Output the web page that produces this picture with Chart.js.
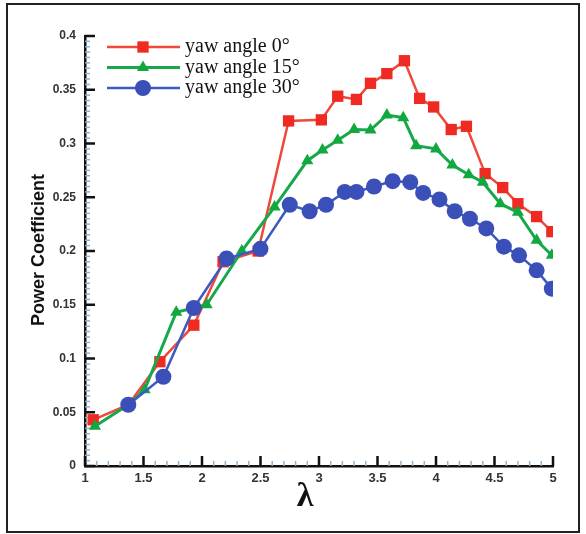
<!DOCTYPE html>
<html>
<head>
<meta charset="utf-8">
<script src="https://cdn.jsdelivr.net/npm/chart.js@4.4.0/dist/chart.umd.min.js"></script>
<style>
  html, body { margin: 0; padding: 0; background: #fff; }
  #wrap { position: relative; width: 586px; height: 534px; }
  #frame { position: absolute; left: 6px; top: 3px; width: 570px; height: 526px; border: 2px solid #222; pointer-events: none; }
</style>
</head>
<body>
<div id="wrap">
  <canvas id="chart" width="586" height="534"></canvas>
  <div id="frame"></div>
</div>
<script>
// tip speed ratio (lambda) and power coefficient
const lambda0 = [1.07, 1.37, 1.64, 1.93, 2.18, 2.48, 2.74, 3.02, 3.16, 3.32, 3.44, 3.58, 3.73, 3.86, 3.98, 4.13, 4.26, 4.42, 4.57, 4.70, 4.86, 4.99];
const cp0     = [0.043, 0.057, 0.097, 0.131, 0.190, 0.200, 0.321, 0.322, 0.344, 0.341, 0.356, 0.365, 0.377, 0.342, 0.334, 0.313, 0.316, 0.272, 0.259, 0.244, 0.232, 0.218];

const lambda15 = [1.085, 1.37, 1.51, 1.78, 2.04, 2.34, 2.62, 2.90, 3.03, 3.16, 3.30, 3.44, 3.58, 3.72, 3.83, 4.00, 4.14, 4.28, 4.40, 4.55, 4.70, 4.86, 4.99];
const cp15     = [0.037, 0.057, 0.071, 0.143, 0.150, 0.200, 0.241, 0.284, 0.294, 0.303, 0.313, 0.3125, 0.3265, 0.324, 0.298, 0.295, 0.280, 0.271, 0.264, 0.244, 0.236, 0.210, 0.196];

const lambda30 = [1.37, 1.67, 1.93, 2.21, 2.50, 2.75, 2.92, 3.06, 3.22, 3.32, 3.47, 3.63, 3.78, 3.89, 4.03, 4.16, 4.29, 4.43, 4.58, 4.71, 4.86, 4.99];
const cp30     = [0.057, 0.083, 0.147, 0.193, 0.202, 0.243, 0.237, 0.243, 0.255, 0.255, 0.260, 0.265, 0.264, 0.254, 0.248, 0.237, 0.230, 0.221, 0.204, 0.196, 0.182, 0.165];

const seriesLabels = ['yaw angle 0°', 'yaw angle 15°', 'yaw angle 30°'];

const toPoints = (xs, ys) => xs.map((x, i) => ({ x: x, y: ys[i] }));
const plainNumber = v => String(+v.toFixed(3));

// ticks drawn inward like the original, plus light minor ticks
const innerTicks = {
    id: 'innerTicks',
    beforeDatasetsDraw(chart) {
        const ctx = chart.ctx;
        const xs = chart.scales.x, ys = chart.scales.y;
        const x0 = xs.left, y0 = ys.bottom;
        ctx.save();
        ctx.lineWidth = 1.5;
        ctx.strokeStyle = '#8fb3cc';
        for (let v = 1; v <= 5.0001; v += 0.1) {
            const px = xs.getPixelForValue(v);
            ctx.beginPath(); ctx.moveTo(px, y0); ctx.lineTo(px, y0 - 5); ctx.stroke();
        }
        for (let v = 0; v <= 0.4001; v += 0.005) {
            const py = ys.getPixelForValue(v);
            ctx.beginPath(); ctx.moveTo(x0, py); ctx.lineTo(x0 + 5, py); ctx.stroke();
        }
        ctx.strokeStyle = '#111';
        ctx.lineWidth = 2.5;
        for (let v = 1; v <= 5.0001; v += 0.5) {
            const px = xs.getPixelForValue(v);
            ctx.beginPath(); ctx.moveTo(px, y0); ctx.lineTo(px, y0 - 10); ctx.stroke();
        }
        for (let v = 0; v <= 0.4001; v += 0.05) {
            const py = ys.getPixelForValue(v);
            ctx.beginPath(); ctx.moveTo(x0, py); ctx.lineTo(x0 + 10, py); ctx.stroke();
        }
        ctx.restore();
    },
    afterDraw(chart) {
        const ctx = chart.ctx;
        ctx.save();
        // axis titles
        ctx.fillStyle = '#111';
        ctx.font = 'bold 18px "Liberation Sans", Arial, sans-serif';
        ctx.textAlign = 'center';
        ctx.textBaseline = 'middle';
        ctx.translate(39, 250);
        ctx.rotate(-Math.PI / 2);
        ctx.fillText('Power Coefficient', 0, 0);
        ctx.restore();
        ctx.save();
        ctx.fillStyle = '#111';
        ctx.textAlign = 'center';
        ctx.textBaseline = 'middle';
        ctx.font = 'bold 34px "Liberation Serif", "Times New Roman", serif';
        ctx.fillText('λ', 305, 497);

        // legend
        ctx.font = '20px "Liberation Serif", "Times New Roman", serif';
        ctx.textAlign = 'left';
        const rowsY = [47, 67.5, 88];
        chart.data.datasets.forEach((ds, i) => {
            const y = rowsY[i];
            ctx.strokeStyle = ds.borderColor;
            ctx.lineWidth = ds.borderWidth;
            ctx.beginPath(); ctx.moveTo(107, y); ctx.lineTo(180, y); ctx.stroke();
            ctx.fillStyle = ds.pointBackgroundColor;
            Chart.helpers.drawPoint(ctx, {
                pointStyle: ds.pointStyle, radius: ds.pointRadius, borderWidth: 0, rotation: 0
            }, 143, y);
            ctx.fillStyle = '#111';
            ctx.fillText(ds.label, 185, y);
        });
        ctx.restore();
    }
};

new Chart(document.getElementById('chart'), {
    type: 'scatter',
    data: {
        datasets: [
            {
                label: seriesLabels[0],
                data: toPoints(lambda0, cp0),
                showLine: true,
                borderColor: '#ee4a3c',
                borderWidth: 2.5,
                pointStyle: 'rect',
                pointRadius: 8,
                pointBackgroundColor: '#ee2a22',
                pointBorderWidth: 0,
                order: 3
            },
            {
                label: seriesLabels[1],
                data: toPoints(lambda15, cp15),
                showLine: true,
                borderColor: '#18a84c',
                borderWidth: 3,
                pointStyle: 'triangle',
                pointRadius: 7,
                pointBackgroundColor: '#12a840',
                pointBorderWidth: 0,
                order: 2
            },
            {
                label: seriesLabels[2],
                data: toPoints(lambda30, cp30),
                showLine: true,
                borderColor: '#3d5ac0',
                borderWidth: 2.5,
                pointStyle: 'circle',
                pointRadius: 8,
                pointBackgroundColor: '#3a4fb8',
                pointBorderWidth: 0,
                order: 1
            }
        ]
    },
    options: {
        responsive: false,
        animation: false,
        layout: { padding: { top: 36, right: 33, left: 0, bottom: 0 } },
        plugins: { legend: { display: false }, tooltip: { enabled: false } },
        scales: {
            x: {
                type: 'linear', min: 1, max: 5,
                afterFit: s => { s.height = 68; },
                grid: { display: false, drawTicks: false },
                border: { display: true, color: '#111', width: 2.5 },
                ticks: {
                    stepSize: 0.5, padding: 5, color: '#333',
                    callback: plainNumber,
                    font: { family: '"Liberation Sans", Arial, sans-serif', size: 13, weight: 'bold' }
                }
            },
            y: {
                type: 'linear', min: 0, max: 0.4,
                afterFit: s => { s.width = 85; },
                grid: { display: false, drawTicks: false },
                border: { display: true, color: '#111', width: 2.5 },
                ticks: {
                    stepSize: 0.05, padding: 9, color: '#333',
                    callback: plainNumber,
                    font: { family: '"Liberation Sans", Arial, sans-serif', size: 12, weight: 'bold' }
                }
            }
        }
    },
    plugins: [innerTicks]
});
</script>
</body>
</html>
